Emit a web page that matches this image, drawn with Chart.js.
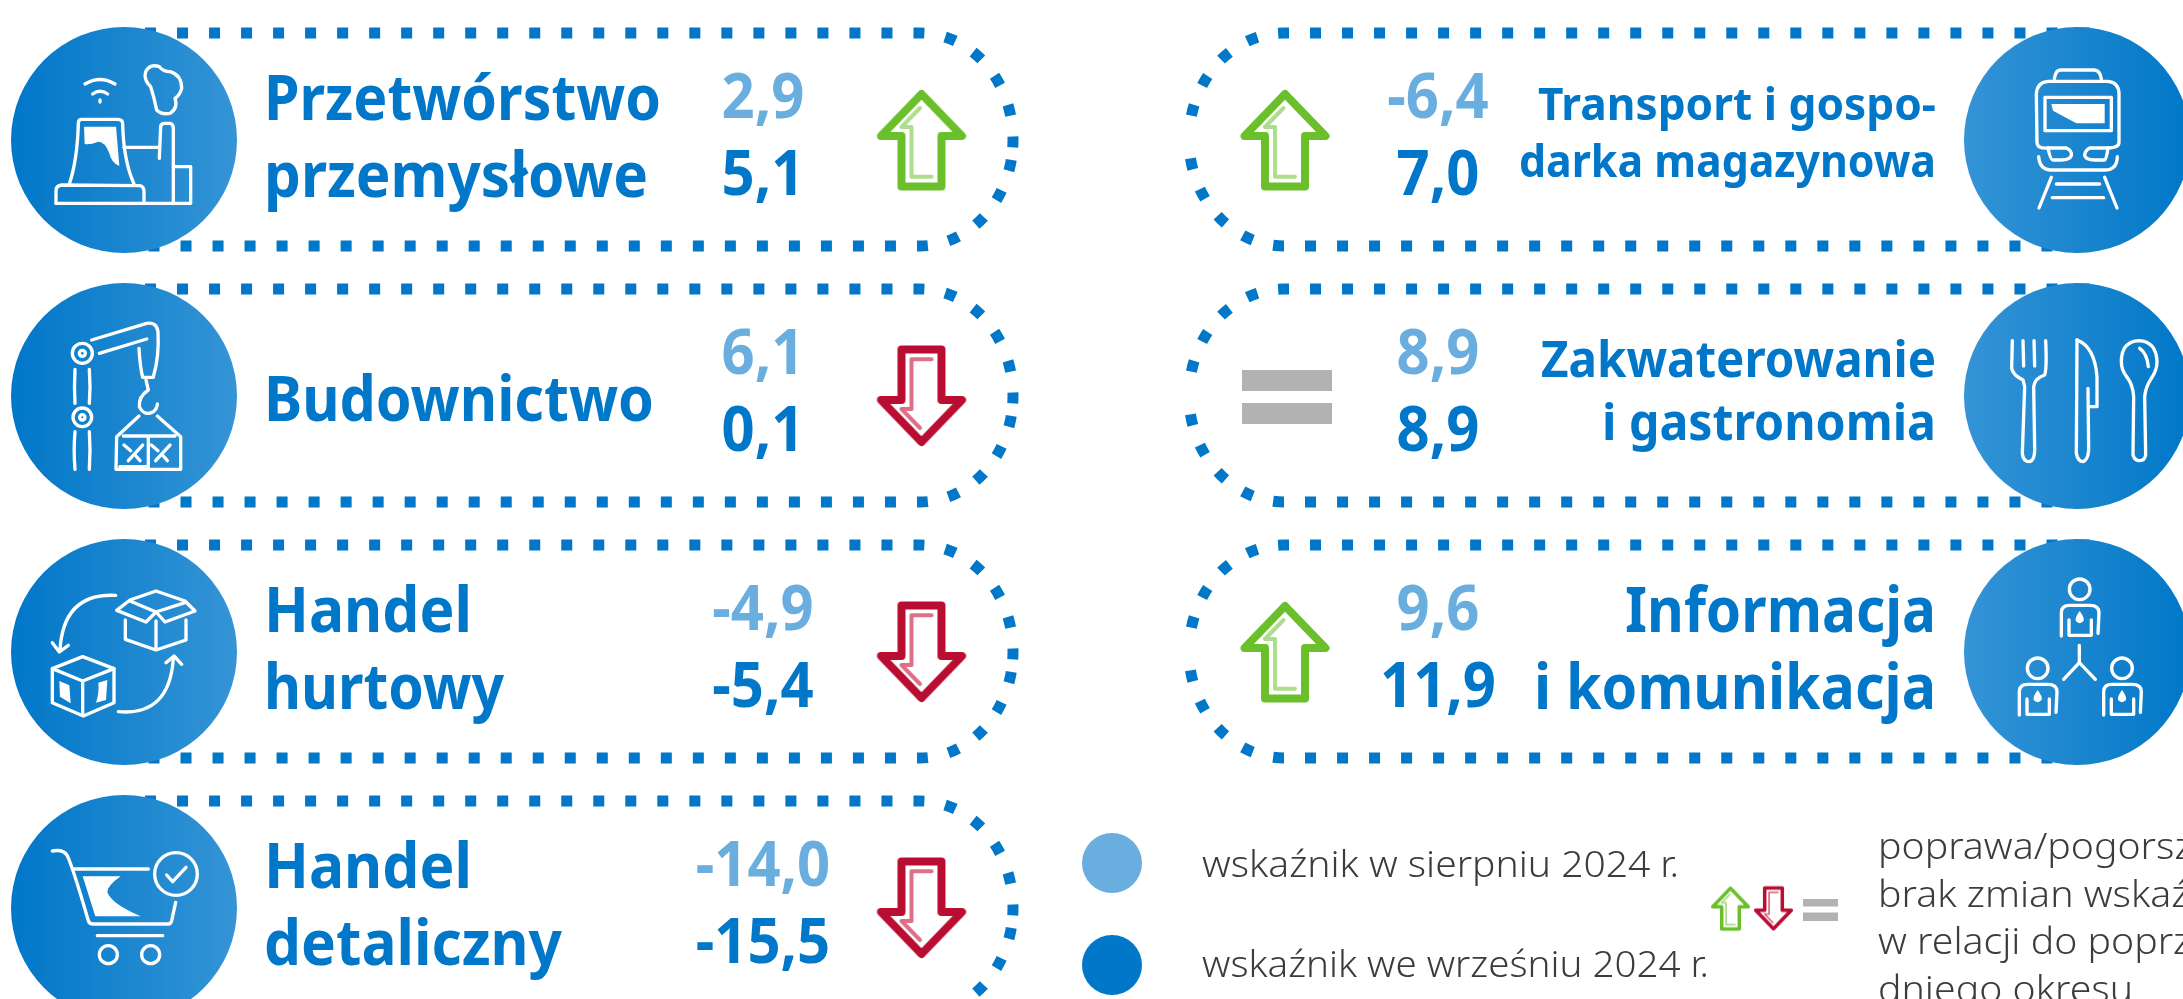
<!DOCTYPE html>
<html lang="pl">
<head>
  <meta charset="UTF-8" />
  <title>Wskaźnik ogólnego klimatu koniunktury</title>
  <style>
    html, body { margin: 0; padding: 0; background: #fff; overflow: hidden; }
    canvas { display: block; }
  </style>
</head>
<body>
  <canvas id="chart" width="2183" height="999"></canvas>

  <script src="https://cdn.jsdelivr.net/npm/chart.js"></script>
  <script>
    // dane
    const categories = ['Przetwórstwo przemysłowe', 'Budownictwo', 'Handel hurtowy', 'Handel detaliczny',
      'Transport i gospodarka magazynowa', 'Zakwaterowanie i gastronomia', 'Informacja i komunikacja'];
    const august = [2.9, 6.1, -4.9, -14.0, -6.4, 8.9, 9.6];
    const september = [5.1, 0.1, -5.4, -15.5, 7.0, 8.9, 11.9];
    const seriesNames = ['wskaźnik w sierpniu 2024 r.', 'wskaźnik we wrześniu 2024 r.'];
    const noteLines = ['poprawa/pogorszenie/', 'brak zmian wskaźnika', 'w relacji do poprze-', 'dniego okresu'];

    // układ
    const labelLines = [['Przetwórstwo', 'przemysłowe'], ['Budownictwo'], ['Handel', 'hurtowy'], ['Handel', 'detaliczny'],
      ['Transport i gospo-', 'darka magazynowa'], ['Zakwaterowanie', 'i gastronomia'], ['Informacja', 'i komunikacja']];
    const labelWidths = [[397, 384], [390], [208, 240], [208, 298], [398, 417], [395, 334], [311, 402]];
    const labelSizes = [62, 62, 62, 62, 44, 50, 62];
    const labelOffsets = [[-20, 57], [25], [-20, 57], [-20, 57], [-20, 37], [-19, 44], [-20, 57]];
    const panelColumn = [0, 0, 0, 0, 1, 1, 1];
    const panelRow = [0, 1, 2, 3, 0, 1, 2];
    const rowY = [140, 396, 652, 908];
    const discX = [124, 2077];
    const valueX = [763, 1438];
    const arrowX = [921.5, 1285];
    const labelX = [264, 1936];

    const DARK = '#0077c8';
    const LIGHT = '#6aaee0';
    const TEXT = '#3c3c3b';
    const FONT = '"Noto Sans"';

    const fmt = v => v.toFixed(1).replace('.', ',');

    function makeArrow(dir, k) {
      const c = document.createElement('canvas');
      c.width = Math.ceil(110 * k);
      c.height = Math.ceil(116 * k);
      const g = c.getContext('2d');
      g.translate(c.width / 2, c.height / 2);
      g.scale(k, dir * k);
      g.lineJoin = 'round';
      g.lineCap = 'round';
      g.lineWidth = 8;
      g.strokeStyle = dir > 0 ? '#6abf2b' : '#b90e32';
      g.fillStyle = '#fff';
      g.beginPath();
      g.moveTo(0, -46);
      g.lineTo(40.5, -4);
      g.lineTo(20, -4);
      g.lineTo(20, 46.5);
      g.lineTo(-20, 46.5);
      g.lineTo(-20, -4);
      g.lineTo(-40.5, -4);
      g.closePath();
      g.fill();
      g.stroke();
      g.lineWidth = 4;
      g.strokeStyle = dir > 0 ? '#aedd8e' : '#dc7089';
      g.beginPath();
      g.moveTo(-1.5, -32);
      g.lineTo(-20, -13);
      g.lineTo(-10, -13);
      g.lineTo(-10, 36.7);
      g.lineTo(10, 36.7);
      g.stroke();
      return c;
    }

    function makeEqual(w, barH, gap) {
      const c = document.createElement('canvas');
      c.width = w;
      c.height = barH * 2 + gap;
      const g = c.getContext('2d');
      g.fillStyle = '#b2b2b2';
      g.fillRect(0, 0, w, barH);
      g.fillRect(0, barH + gap, w, barH);
      return c;
    }

    const upBig = makeArrow(1, 1);
    const downBig = makeArrow(-1, 1);
    const equalBig = makeEqual(90, 21, 12);

    const trendStyle = i => {
      const d = september[i] - august[i];
      return d > 0 ? upBig : d < 0 ? downBig : equalBig;
    };
    const isSame = i => september[i] === august[i];

    // ikony: ścieżki w skali 3x względem środka koła
    const person = (dx, dy) => [
      `M${265 + dx} ${270 + dy} L${265 + dx} ${200 + dy} Q${265 + dx} ${178 + dy} ${290 + dx} ${178 + dy} L${350 + dx} ${178 + dy} Q${378 + dx} ${178 + dy} ${378 + dx} ${200 + dy} L${375 + dx} ${262 + dy}`,
      `M${288 + dx} ${222 + dy} L${288 + dx} ${268 + dy} L${355 + dx} ${268 + dy} L${355 + dx} ${222 + dy}`
    ];
    const personFill = (dx, dy) => `M${320 + dx} ${195 + dy} Q${335 + dx} ${215 + dy} ${332 + dx} ${225 + dy} Q${320 + dx} ${238 + dy} ${308 + dx} ${225 + dy} Q${305 + dx} ${215 + dy} ${320 + dx} ${195 + dy} Z`;
    const circle = (x, y, r) => `M${x - r} ${y} A${r} ${r} 0 1 0 ${x + r} ${y} A${r} ${r} 0 1 0 ${x - r} ${y} Z`;

    const icons = [
      { ox: 372, oy: 360,
        stroke: [
          'M168 550 L168 512 Q168 497 185 495 L420 497 Q432 500 432 515 L432 548',
          'M168 550 L572 550 L572 440 L520 440',
          'M208 492 Q232 420 235 310 Q235 298 245 298 L355 298 Q368 300 368 310 Q370 420 402 492',
          'M372 382 L478 382',
          'M478 415 L482 320 Q482 310 495 310 L510 310 Q520 312 520 325 L520 548',
          'M470 270 Q462 230 452 200 Q430 180 437 155 Q450 130 478 140 Q490 155 510 155 Q545 165 545 205 Q540 225 525 235 Q535 265 510 280 Q485 285 470 270 Z',
          'M255 192 Q300 165 345 192', 'M278 222 Q300 205 323 222', 'M300 240 L300 246'
        ],
        fill: ['M252 320 L348 320 L358 438 Q335 430 328 400 Q315 365 295 365 Q270 375 254 372 Z'] },
      { ox: 312, oy: 318,
        stroke: [
          'M215 150 L380 100 Q410 95 414 125 Q418 200 400 260',
          'M238 190 L380 147',
          'M357 175 Q360 230 368 262 L400 262',
          'M378 270 L385 300 Q355 320 358 350 Q372 380 400 365 Q412 355 412 342',
          circle(187, 190, 30), circle(187, 190, 9), circle(187, 382, 28), circle(187, 382, 8),
          'M165 238 Q162 290 165 340', 'M208 238 Q212 290 208 340',
          'M165 425 Q160 480 165 538', 'M208 425 Q212 480 208 538',
          'M357 378 L290 440 L288 538 L482 538 L482 440 L412 378',
          'M310 438 L465 438', 'M385 445 L385 530', 'M300 530 L385 530',
          'M325 512 L368 465', 'M312 465 L332 482', 'M348 498 L360 512',
          'M407 512 L450 465', 'M394 465 L414 482', 'M430 498 L442 512'
        ],
        fill: [] },
      { ox: 312, oy: 318,
        stroke: [
          'M287 148 Q130 140 120 312', 'M97 290 L118 318 L145 298',
          'M295 497 Q450 510 460 335', 'M438 350 L462 330 L485 355',
          'M290 193 L330 162 L408 135 L495 165 L525 195 L435 228 L408 198 L378 228 Z',
          'M330 165 L408 198 L495 170',
          'M316 222 L316 280 L408 312 L498 282 L498 222', 'M408 225 L408 305',
          'M97 368 L188 332 L282 368 L282 470 L190 510 L97 470 Z',
          'M97 368 L188 405 L282 368', 'M188 405 L188 505'
        ],
        fill: ['M118 405 L148 418 L152 472 L120 452 Z', 'M235 410 L262 402 L258 462 L228 470 Q238 440 235 410 Z'] },
      { ox: 312, oy: 357,
        stroke: [
          'M97 186 Q130 180 142 200 Q160 240 205 395 Q208 405 220 405 L445 405 Q452 405 455 395 L467 340',
          'M162 240 L385 240', 'M232 440 L428 440',
          circle(265, 497, 27), circle(392, 497, 27), circle(468, 255, 64),
          'M440 258 L458 278 L498 235'
        ],
        fill: ['M188 262 L302 262 Q262 290 262 310 Q275 345 362 382 L226 382 Z'] },
      { ox: 312, oy: 318,
        stroke: [
          'M244 135 Q248 108 262 108 L365 108 Q382 110 385 135',
          'M225 342 Q192 345 192 325 L190 180 Q192 145 225 142 L405 142 Q438 145 438 180 L438 325 Q438 342 405 342',
          'M216 190 L415 190 L415 290 L216 290 Z',
          'M225 342 L280 342 Q298 350 295 365 Q290 378 265 378 L240 378 Q232 378 225 342',
          'M405 342 L350 342 Q335 350 335 365 Q340 378 365 378 L395 378 Q400 378 405 342',
          'M197 368 Q200 408 235 408 L395 408 Q432 408 433 368',
          'M235 430 L198 522', 'M395 430 L432 522', 'M250 450 L380 450', 'M238 491 L392 491'
        ],
        fill: ['M235 210 L395 210 L395 268 L310 268 L240 230 Z'] },
      { ox: 312, oy: 318,
        stroke: [
          'M118 152 L116 235 Q120 255 150 270 L155 290 L148 490 Q150 515 170 515 Q185 510 185 480 L182 290 Q185 265 215 255 Q222 235 218 152',
          'M150 152 L152 228', 'M183 152 L185 228',
          'M312 150 L310 490 Q315 515 330 515 Q345 510 347 480 L345 295',
          'M347 350 L372 350 L372 260 Q365 170 312 150',
          'M462 262 Q445 240 445 215 Q445 155 498 152 Q550 155 552 215 Q552 240 535 265',
          'M462 262 Q480 285 482 320 L480 495 Q485 512 500 512 Q515 512 518 495 L515 320 Q518 290 535 265',
          'M500 175 Q522 190 526 230'
        ],
        fill: [] },
      { ox: 312, oy: 318,
        stroke: [
          circle(320, 130, 31), circle(194, 367, 31), circle(447, 367, 31),
          ...person(0, 0), ...person(-126, 237), ...person(127, 237),
          'M319 298 L319 350', 'M272 400 L319 350 L367 400'
        ],
        fill: [personFill(0, 0), personFill(-126, 237), personFill(127, 237)] }
    ];

    function fitText(ctx, text, x, y, align, width) {
      ctx.save();
      ctx.textAlign = align;
      ctx.textBaseline = 'alphabetic';
      const k = width ? width / ctx.measureText(text).width : 1;
      ctx.translate(x, y);
      ctx.scale(k, 1);
      ctx.fillText(text, 0, 0);
      ctx.restore();
    }

    // kropkowana ramka: górna i dolna połowa mają własną fazę kropek
    function strokePill(ctx, column, cy) {
      ctx.save();
      ctx.strokeStyle = DARK;
      ctx.lineWidth = 11;
      ctx.setLineDash([11, 21.02]);
      ctx.lineCap = 'butt';
      const top = cy - 107, bottom = cy + 106, mid = (top + bottom) / 2, ry = 106.5;
      ctx.beginPath();
      if (column === 0) {
        ctx.moveTo(145, top);
        ctx.lineTo(920, top);
        ctx.ellipse(920, mid, 93, ry, 0, -Math.PI / 2, 0.1);
        ctx.stroke();
        ctx.beginPath();
        ctx.moveTo(148.5, bottom);
        ctx.lineTo(920, bottom);
        ctx.ellipse(920, mid, 93, ry, 0, Math.PI / 2, 0.1, true);
      } else {
        ctx.moveTo(2089.5, top);
        ctx.lineTo(1284, top);
        ctx.ellipse(1284, mid, 95, ry, 0, -Math.PI / 2, Math.PI + 0.1, true);
        ctx.stroke();
        ctx.beginPath();
        ctx.moveTo(2084.5, bottom);
        ctx.lineTo(1284, bottom);
        ctx.ellipse(1284, mid, 95, ry, 0, Math.PI / 2, Math.PI - 0.1);
      }
      ctx.stroke();
      ctx.restore();
    }

    const infographic = {
      id: 'infographic',
      beforeDatasetsDraw(chart) {
        categories.forEach((c, i) => strokePill(chart.ctx, panelColumn[i], rowY[panelRow[i]]));
      },
      afterDatasetsDraw(chart) {
        const ctx = chart.ctx;
        const { x: sx, y: sy } = chart.scales;

        // ikony w kołach
        const discs = chart.getDatasetMeta(0).data;
        categories.forEach((c, i) => {
          const ic = icons[i];
          ctx.save();
          ctx.translate(discs[i].x, discs[i].y);
          ctx.scale(1 / 3, 1 / 3);
          ctx.translate(-ic.ox, -ic.oy);
          ctx.strokeStyle = '#fff';
          ctx.fillStyle = '#fff';
          ctx.lineWidth = 10;
          ctx.lineCap = 'round';
          ctx.lineJoin = 'round';
          ic.stroke.forEach(p => ctx.stroke(new Path2D(p)));
          ic.fill.forEach(p => ctx.fill(new Path2D(p)));
          ctx.restore();
        });

        // nazwy sekcji
        ctx.fillStyle = DARK;
        categories.forEach((c, i) => {
          const col = panelColumn[i];
          ctx.font = `700 ${labelSizes[i]}px ${FONT}`;
          labelLines[i].forEach((line, j) => {
            fitText(ctx, line, sx.getPixelForValue(labelX[col]), sy.getPixelForValue(rowY[panelRow[i]] + labelOffsets[i][j]),
              col === 0 ? 'left' : 'right', labelWidths[i][j]);
          });
        });

        // wartości
        [1, 2].forEach(d => {
          const ds = chart.data.datasets[d];
          const meta = chart.getDatasetMeta(d);
          ctx.fillStyle = ds.valueColor;
          ctx.font = `700 63px ${FONT}`;
          ds.values.forEach((v, i) => {
            const t = fmt(v);
            fitText(ctx, t, meta.data[i].x, meta.data[i].y, 'center', ctx.measureText(t).width * 0.92);
          });
        });

        // legenda
        ctx.fillStyle = TEXT;
        ctx.font = `300 37px ${FONT}`;
        fitText(ctx, seriesNames[0], 1202, 877, 'left', 477);
        fitText(ctx, seriesNames[1], 1202, 977, 'left', 507);
        noteLines.forEach((t, i) => fitText(ctx, t, 1878, 859 + i * 47.5, 'left', ctx.measureText(t).width * 1.06));
      }
    };

    new Chart(document.getElementById('chart'), {
      type: 'scatter',
      data: {
        datasets: [
          {
            label: 'ikony',
            data: categories.map((c, i) => ({ x: discX[panelColumn[i]], y: rowY[panelRow[i]] })),
            pointRadius: 113,
            pointBorderWidth: 0,
            pointBackgroundColor: c => {
              if (!c.raw) return DARK;
              const col = panelColumn[c.dataIndex];
              const px = c.chart.scales.x.getPixelForValue(c.raw.x);
              if (!isFinite(px)) return DARK;
              const g = c.chart.ctx.createLinearGradient(px - 113, 0, px + 113, 0);
              g.addColorStop(col === 0 ? 0 : 1, '#0077c8');
              g.addColorStop(col === 0 ? 1 : 0, '#3594d6');
              return g;
            }
          },
          {
            label: seriesNames[0],
            values: august,
            valueColor: LIGHT,
            data: august.map((v, i) => ({ x: valueX[panelColumn[i]], y: rowY[panelRow[i]] - 22 })),
            pointRadius: 0
          },
          {
            label: seriesNames[1],
            values: september,
            valueColor: DARK,
            data: september.map((v, i) => ({ x: valueX[panelColumn[i]], y: rowY[panelRow[i]] + 55 })),
            pointRadius: 0
          },
          {
            label: 'zmiana',
            data: categories.map((c, i) => ({
              x: arrowX[panelColumn[i]] + (isSame(i) ? 2 : 0),
              y: rowY[panelRow[i]] + (isSame(i) ? 1 : 0)
            })),
            pointRadius: 10,
            pointStyle: c => c.dataIndex === undefined ? 'circle' : trendStyle(c.dataIndex)
          },
          {
            label: 'legenda serii',
            data: [{ x: 1112, y: 863 }, { x: 1112, y: 965 }],
            pointRadius: 30,
            pointBorderWidth: 0,
            pointBackgroundColor: [LIGHT, DARK]
          },
          {
            label: 'legenda zmian',
            data: [{ x: 1730.5, y: 908.5 }, { x: 1773.5, y: 908.5 }, { x: 1820.5, y: 909.5 }],
            pointRadius: 10,
            pointStyle: [makeArrow(1, 0.44), makeArrow(-1, 0.44), makeEqual(35, 8, 6)]
          }
        ]
      },
      options: {
        responsive: false,
        animation: false,
        events: [],
        layout: { padding: 0, autoPadding: false },
        scales: {
          x: { type: 'linear', min: 0, max: 2183, display: false },
          y: { type: 'linear', min: 0, max: 999, reverse: true, display: false }
        },
        plugins: { legend: { display: false }, tooltip: { enabled: false } }
      },
      plugins: [infographic]
    });
  </script>
</body>
</html>
